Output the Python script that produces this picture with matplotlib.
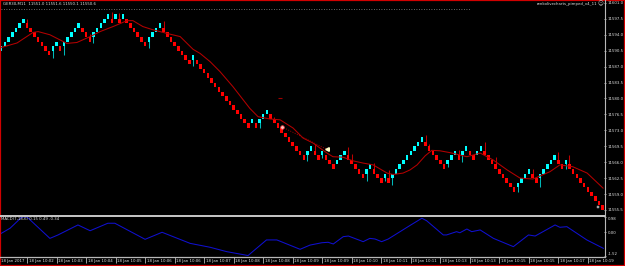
import numpy as np
import matplotlib
matplotlib.use('Agg')
import matplotlib.pyplot as plt
import matplotlib.transforms as mtransforms
from matplotlib.lines import Line2D
from matplotlib.patches import Rectangle

# renko closes, one per brick (brick size 1.0, first brick is an up brick)
brick_size = 1.0
brick_close = [
    11591.5, 11592.5, 11593.5, 11594.5, 11595.5, 11596.5, 11597.5,
    11595.5, 11594.5, 11593.5, 11592.5, 11591.5, 11590.5, 11589.5,
    11591.5, 11592.5, 11590.5,
    11592.5, 11593.5, 11594.5, 11595.5, 11596.5,
    11594.5, 11593.5, 11592.5,
    11594.5, 11595.5, 11596.5, 11597.5, 11598.5,
    11596.5, 11598.5, 11596.5, 11598.5,
    11596.5, 11595.5, 11594.5, 11593.5, 11592.5, 11591.5,
    11593.5, 11594.5, 11595.5, 11596.5,
    11594.5, 11593.5, 11592.5, 11591.5, 11590.5, 11589.5, 11588.5, 11587.5,
    11589.5,
    11587.5, 11586.5, 11585.5, 11584.5, 11583.5, 11582.5, 11581.5, 11580.5,
    11579.5, 11578.5, 11577.5, 11576.5, 11575.5, 11574.5, 11573.5,
    11575.5, 11573.5,
    11575.5, 11576.5, 11577.5,
    11575.5, 11574.5, 11573.5, 11572.5, 11571.5, 11570.5, 11569.5, 11568.5,
    11567.5, 11566.5,
    11568.5, 11569.5, 11567.5, 11566.5, 11568.5,
    11566.5, 11565.5, 11564.5,
    11566.5, 11567.5, 11568.5,
    11566.5, 11565.5, 11564.5, 11563.5, 11562.5,
    11564.5, 11565.5,
    11563.5, 11562.5, 11561.5,
    11563.5, 11561.5,
    11563.5, 11564.5, 11565.5, 11566.5, 11567.5, 11568.5, 11569.5, 11570.5, 11571.5,
    11569.5, 11568.5, 11567.5, 11566.5, 11565.5, 11564.5,
    11566.5, 11567.5, 11568.5,
    11566.5,
    11568.5, 11569.5, 11567.5, 11566.5, 11568.5, 11569.5,
    11567.5, 11566.5, 11565.5, 11564.5, 11563.5, 11562.5, 11561.5, 11560.5, 11559.5,
    11561.5, 11562.5, 11563.5, 11564.5,
    11562.5, 11561.5,
    11563.5, 11564.5, 11565.5, 11566.5, 11567.5,
    11565.5, 11564.5,
    11566.5,
    11564.5, 11563.5, 11562.5, 11561.5, 11560.5, 11559.5, 11558.5, 11557.5, 11556.5, 11555.5,
]

# shadows (brick index, extreme price)
wick_idx = [7, 14, 17, 24, 25, 30, 32, 40, 44, 52, 70, 74, 83, 85, 87, 94, 95, 99,
            101, 104, 105, 106, 115, 116, 121, 124, 125, 131, 134, 140, 144, 146,
            151, 153, 154]
wick_price = [11597.45, 11589.0, 11589.5, 11594.2, 11592.2, 11598.9, 11598.7, 11591.0,
              11596.95, 11587.05, 11573.4, 11575.9, 11566.3, 11569.9, 11566.85, 11569.3,
              11567.9, 11561.8, 11565.8, 11561.8, 11564.2, 11561.05, 11571.95, 11570.1,
              11564.9, 11568.7, 11566.0, 11570.4, 11567.1, 11559.5, 11564.45, 11560.6,
              11568.25, 11564.5, 11567.6]

# moving average
ma_idx = [0, 4.3, 8.6, 10.0, 13.2, 17.8, 20.5, 24.1, 26.8, 30.3,
          34.1, 35.7, 38.4, 41.1, 44.9, 48.5, 52.0, 53.9, 56.6, 59.3,
          62.8, 67.4, 69.6, 72.8, 75.6, 79.1, 81.8, 84.5, 88.3, 89.9,
          92.6, 95.3, 98.1, 100.8, 104.6, 106.2, 108.9, 110.8, 112.7, 114.9,
          116.7, 118.9, 121.6, 126.2, 129.8, 133.3, 137.1, 140.6, 144.1, 148.7,
          151.4, 154.9, 158.8, 163.1]
ma_val = [11591.2, 11592.2, 11594.5, 11594.7, 11594.0, 11592.1, 11592.3, 11593.6, 11594.7, 11595.8,
          11597.1, 11597.1, 11595.8, 11595.1, 11594.3, 11593.6, 11590.8, 11589.9, 11588.1, 11585.9,
          11582.6, 11577.8, 11576.0, 11575.5, 11575.3, 11573.5, 11571.3, 11570.2, 11568.0, 11567.2,
          11567.1, 11566.3, 11565.8, 11565.4, 11563.6, 11563.3, 11563.6, 11564.3, 11565.4, 11567.4,
          11568.6, 11568.5, 11568.1, 11567.2, 11568.0, 11566.5, 11564.3, 11562.5, 11562.3, 11563.9,
          11565.4, 11565.0, 11563.6, 11560.3]

# MACD main line
macd_idx = [0, 2.4, 5.6, 7.0, 13.2, 15.4, 20.8, 24.1, 28.9, 30.8,
            39.0, 43.6, 51.2, 56.6, 61.1, 66.9, 71.9, 74.7, 81.0, 83.7,
            86.9, 88.6, 90.0, 92.7, 94.1, 98.1, 99.9, 101.3, 103.1, 104.9,
            110.8, 114.0, 115.3, 119.8, 120.7, 123.4, 124.3, 126.2, 127.5, 129.8,
            133.4, 138.8, 142.9, 144.7, 150.1, 151.4, 153.3, 158.7, 163.2]
macd_val = [-0.07, 0.26, 0.98, 0.98, -0.39, -0.17, 0.47, 0.10, 0.58, 0.58,
            -0.45, 0.00, -0.71, -0.96, -1.24, -1.49, -0.49, -0.49, -1.09, -0.82,
            -0.67, -0.64, -0.75, -0.28, -0.24, -0.60, -0.39, -0.43, -0.60, -0.43,
            0.44, 0.90, 0.74, -0.17, -0.17, 0.04, -0.03, 0.21, 0.04, 0.15,
            -0.39, -0.92, -0.17, -0.24, 0.47, 0.32, 0.36, -0.49, -1.03]

price_ticks = [11555.5, 11559.0, 11562.5, 11566.0, 11569.5, 11573.0, 11576.5,
               11580.0, 11583.5, 11587.0, 11590.5, 11594.0, 11597.5, 11601.0]
macd_ticks = [0.98, 0.00, -1.52]
macd_tick_labels = ['0.98', '0.00', '-1.52']

time_tick_idx = [7, 15, 23, 31, 39, 47, 55, 63, 71, 79, 87, 95, 103, 111, 119, 127, 135, 143, 151, 159]
time_labels = ['18 Jan 10:02', '18 Jan 10:03', '18 Jan 10:04', '18 Jan 10:05', '18 Jan 10:06',
               '18 Jan 10:06', '18 Jan 10:07', '18 Jan 10:08', '18 Jan 10:08', '18 Jan 10:09',
               '18 Jan 10:09', '18 Jan 10:10', '18 Jan 10:11', '18 Jan 10:11', '18 Jan 10:13',
               '18 Jan 10:13', '18 Jan 10:15', '18 Jan 10:15', '18 Jan 10:17', '18 Jan 10:19']

# other objects on the chart
hline_price = 11599.7
hline_end = 127
trade_idx = [76.0, 88.3]
trade_price = [11573.8, 11568.8]
stop_mark = (75.6, 11580.1)
last_mark = (161.8, 11556.2)

W, H = 625, 266
FS = 2.8
TXT = '#e0e0e0'
GRID = '#b8b8b8'


def fx(px):
    return px / W


def fy(py):
    return 1 - py / H


fig = plt.figure(figsize=(W / 100, H / 100), dpi=100, facecolor='black')
ax = fig.add_axes([fx(1), fy(214), (604 - 1) / W, (214 - 1) / H])
axm = fig.add_axes([fx(1), fy(256.5), (604 - 1) / W, 40 / H], sharex=ax)

for a in (ax, axm):
    a.set_facecolor('black')
    for s in a.spines.values():
        s.set_visible(False)

# bricks
closes = np.array(brick_close)
idx = np.arange(len(closes))
dirs = np.sign(np.diff(closes, prepend=closes[0] - brick_size))
opens = closes - dirs * brick_size
up = dirs > 0
cols = np.where(up, '#00ffff', '#ff0000')
wcols = np.where(up, '#00b8b8', '#c00000')
mids = (opens + closes) / 2
for i, p in zip(wick_idx, wick_price):
    ax.vlines(i, p, mids[i], color=wcols[i], lw=0.75, zorder=2)
ax.bar(idx, closes - opens, bottom=opens, width=0.68, color=cols, linewidth=0, zorder=3)

ax.plot(ma_idx, ma_val, color='#b40000', lw=0.75, zorder=4)
ax.plot([0, hline_end], [hline_price, hline_price], color='#8c8c8c', lw=0.6,
        linestyle=(0, (1, 2)), zorder=1)
ax.plot(trade_idx, trade_price, color='#a00000', lw=0.7, linestyle=(0, (1, 1.5)), zorder=4)
ax.plot(trade_idx[0], trade_price[0], marker='o', ms=2.6, mfc='#ffc0c0', mec='#ff4040', mew=0.5, zorder=5)
ax.plot(trade_idx[1], trade_price[1], marker='<', ms=2.6, mfc='#ffffc8', mec='#ffffc8', zorder=5)
ax.plot(*stop_mark, marker='_', ms=3, mec='#a00000', mew=0.8, zorder=5)
ax.plot(*last_mark, marker='s', ms=1.8, mfc='#909090', mec='#c0c0c0', mew=0.3, zorder=5)

ax.set_xlim(-0.054, 163.36)
ax.set_ylim(11554.61, 11601.42)
ax.yaxis.tick_right()
ax.set_yticks(price_ticks, [f'{v:.1f}' for v in price_ticks])
ax.tick_params(axis='y', colors=GRID, labelcolor=TXT, length=1.6, width=0.6, pad=1, labelsize=FS)
ax.tick_params(axis='x', bottom=False, labelbottom=False)

# MACD
axm.plot(macd_idx, macd_val, color='#1010d0', lw=0.75)
axm.set_ylim(-1.552, 1.012)
axm.yaxis.tick_right()
axm.set_yticks(macd_ticks, macd_tick_labels)
axm.tick_params(axis='y', colors=GRID, labelcolor=TXT, length=1.6, width=0.6, pad=1, labelsize=FS)
ylbl = axm.get_yticklabels()
ylbl[0].set_va('top')
ylbl[-1].set_va('bottom')

axm.set_xticks(time_tick_idx, time_labels)
axm.tick_params(axis='x', colors=GRID, labelcolor=TXT, length=4.5, width=0.6, pad=-3, labelsize=FS)
shift = mtransforms.ScaledTranslation(1.5 / 100, 0, fig.dpi_scale_trans)
for lbl in axm.get_xticklabels():
    lbl.set_ha('left')
    lbl.set_transform(lbl.get_transform() + shift)

# frame lines
fig.add_artist(Line2D([fx(0), fx(604.5)], [fy(215.5), fy(215.5)], color='#c8c8c8', lw=1.4))
fig.add_artist(Line2D([fx(604.5), fx(604.5)], [fy(0), fy(257)], color=GRID, lw=0.8))
fig.add_artist(Line2D([fx(0), fx(604.5)], [fy(256.8), fy(256.8)], color=GRID, lw=0.9))
fig.add_artist(Rectangle((0, 0), 1, 1, transform=fig.transFigure, fill=False,
                         edgecolor='#d00000', lw=1.6))

# texts
fig.text(fx(3), fy(3.6), 'GER30,M11  11551.0 11551.6 11550.1 11550.6', color=TXT,
         fontsize=FS, va='center', ha='left')
fig.text(fx(597), fy(3.6), 'renkolivecharts_pimped_v4_11', color=TXT,
         fontsize=FS, va='center', ha='right')
fig.text(fx(600.5), fy(3.6), '\u263a', color='#d0d0d0', fontsize=4, va='center', ha='center')
fig.text(fx(1.5), fy(219.5), 'MACD(7,18,6) 0.15 0.49 -0.34', color=TXT,
         fontsize=FS, va='center', ha='left')
fig.text(fx(1.5), fy(261), '18 Jan 2017', color=TXT, fontsize=FS, va='center', ha='left')

fig.savefig('out.png', dpi=100, facecolor='black')
